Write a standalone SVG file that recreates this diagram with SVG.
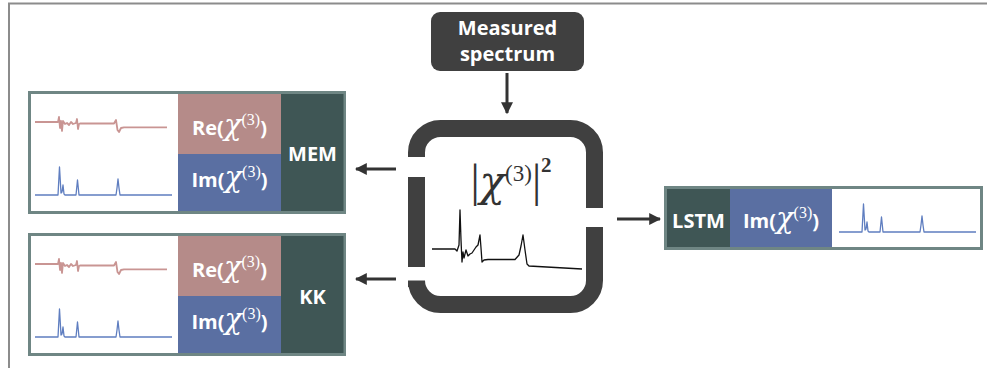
<svg xmlns="http://www.w3.org/2000/svg" width="987" height="368" viewBox="0 0 987 368">
<style>
.lbl{font-family:"Open Sans","Liberation Sans",sans-serif;font-weight:bold;font-size:20px;fill:#fff}
.chi{font-family:"DejaVu Serif","Liberation Serif",serif;font-style:italic;font-weight:normal;font-size:29px}
.sup{font-family:"Liberation Serif","DejaVu Serif",serif;font-weight:normal;font-size:16px}
.cbar{font-family:"Liberation Serif",serif;font-weight:normal;font-size:46px}
.cchi{font-family:"DejaVu Serif","Liberation Serif",serif;font-style:italic;font-weight:normal;font-size:42px}
.csup{font-family:"Liberation Serif",serif;font-weight:normal;font-size:23px}
.ctwo{font-family:"Liberation Serif",serif;font-weight:bold;font-size:21px}
.frame{fill:#fff;stroke:#6f8684;stroke-width:3}
.re{fill:#b58b89}
.im{fill:#5a6fa2}
.dk{fill:#3f5655}
.pink{fill:none;stroke:#c99593;stroke-width:1.8;stroke-linejoin:round}
.blue{fill:none;stroke:#5f7ec0;stroke-width:1.3;stroke-linejoin:round}
.arr{stroke:#333;stroke-width:3;fill:none}
</style>
<defs>
<marker id="ah" viewBox="0 0 10 10" refX="9" refY="5" markerWidth="4" markerHeight="4" orient="auto" markerUnits="strokeWidth">
<path d="M0,0 L10,5 L0,10 z" fill="#333"/>
</marker>
<path id="pk" class="pink" d="M35,122 L58,122 L59,117 L60,128 L61,121 L62,131 L63,121 L65,124 L67,123 L69,125 L71,122 L73,124 L76,123 L77,119 L78,129 L79,124 L80,123.5 L114,123.5 L116,120 L117.5,130 L119,132 L121,128 L124,127.3 L167,127.3"/>
<path id="bl" class="blue" d="M35,195 L58,195 L59.5,167 L61,193 L62,192 L63,185 L64,194 L65,195 L76,195 L77.5,180 L79,195 L116,195 L117,188 L118,179 L119,188 L120,195 L172,195"/>
</defs>
<path d="M9,368 L9,3.5 L987,3.5" fill="none" stroke="#8c8c8c" stroke-width="2"/>

<g id="measured">
<rect x="431" y="12" width="153" height="59" rx="9" fill="#404040"/>
<text class="lbl" x="507.5" y="35" text-anchor="middle">Measured</text>
<text class="lbl" x="507.5" y="61" text-anchor="middle">spectrum</text>
</g>

<g id="center">
<path d="M416.5,157 L416.5,152.5 A24,24 0 0 1 440.5,128.5 L570.5,128.5 A24,24 0 0 1 594.5,152.5 L594.5,208" fill="none" stroke="#404040" stroke-width="17"/>
<path d="M416.5,177 L416.5,267" fill="none" stroke="#404040" stroke-width="17"/>
<path d="M416.5,287 L416.5,280.5 A24,24 0 0 0 440.5,304.5 L570.5,304.5 A24,24 0 0 0 594.5,280.5 L594.5,227" fill="none" stroke="#404040" stroke-width="17"/>
<text x="511" y="196" text-anchor="middle" fill="#333"><tspan class="cbar">|</tspan><tspan class="cchi">χ</tspan><tspan class="csup" dy="-15">(3)</tspan><tspan class="cbar" dy="15">|</tspan><tspan class="ctwo" dy="-24">2</tspan></text>
<path d="M432,249 L455,249 L457,251 L459,245 L460,210 L461,240 L462,262 L463,252 L464,258 L466,250 L468,256 L470,254 L472,253 L474,250 L476,247 L478,245 L480,235 L481,248 L482,262 L484,260 L488,259.5 L515,259.5 L519,255 L521,246 L523,235 L525,250 L527,264 L529,266 L582,269" fill="none" stroke="#111" stroke-width="1.3" stroke-linejoin="round"/>
</g>

<g id="mem">
<rect class="frame" x="29.5" y="92.5" width="315" height="120"/>
<rect class="re" x="178" y="94" width="103" height="60"/>
<rect class="im" x="178" y="154" width="103" height="57"/>
<rect class="dk" x="281" y="94" width="62.5" height="117"/>
<use href="#pk"/>
<use href="#bl"/>
<text class="lbl" x="229.5" y="135" text-anchor="middle">Re(<tspan class="chi">χ</tspan><tspan class="sup" dy="-10">(3)</tspan><tspan dy="10">)</tspan></text>
<text class="lbl" x="229.5" y="187" text-anchor="middle">Im(<tspan class="chi">χ</tspan><tspan class="sup" dy="-10">(3)</tspan><tspan dy="10">)</tspan></text>
<text class="lbl" x="312.5" y="161" text-anchor="middle">MEM</text>
</g>

<g id="kk">
<rect class="frame" x="29.5" y="234.5" width="315" height="120"/>
<rect class="re" x="178" y="236" width="103" height="60"/>
<rect class="im" x="178" y="296" width="103" height="57"/>
<rect class="dk" x="281" y="236" width="62.5" height="117"/>
<use href="#pk" transform="translate(0,142)"/>
<use href="#bl" transform="translate(0,142)"/>
<text class="lbl" x="229.5" y="277" text-anchor="middle">Re(<tspan class="chi">χ</tspan><tspan class="sup" dy="-10">(3)</tspan><tspan dy="10">)</tspan></text>
<text class="lbl" x="229.5" y="329" text-anchor="middle">Im(<tspan class="chi">χ</tspan><tspan class="sup" dy="-10">(3)</tspan><tspan dy="10">)</tspan></text>
<text class="lbl" x="312.5" y="304" text-anchor="middle">KK</text>
</g>

<g id="lstm">
<rect class="frame" x="665.5" y="187.5" width="316" height="61"/>
<rect class="dk" x="667" y="189" width="63" height="58"/>
<rect class="im" x="730" y="189" width="102" height="58"/>
<use href="#bl" transform="translate(804,37)"/>
<text class="lbl" x="698.5" y="228" text-anchor="middle">LSTM</text>
<text class="lbl" x="781" y="228" text-anchor="middle">Im(<tspan class="chi">χ</tspan><tspan class="sup" dy="-10">(3)</tspan><tspan dy="10">)</tspan></text>
</g>

<g id="connectors">
<path class="arr" d="M507,73 L507,113" marker-end="url(#ah)"/>
<path class="arr" d="M396,169 L356,169" marker-end="url(#ah)"/>
<path class="arr" d="M396,279 L356,279" marker-end="url(#ah)"/>
<path class="arr" d="M617,219 L660,219" marker-end="url(#ah)"/>
</g>
</svg>
